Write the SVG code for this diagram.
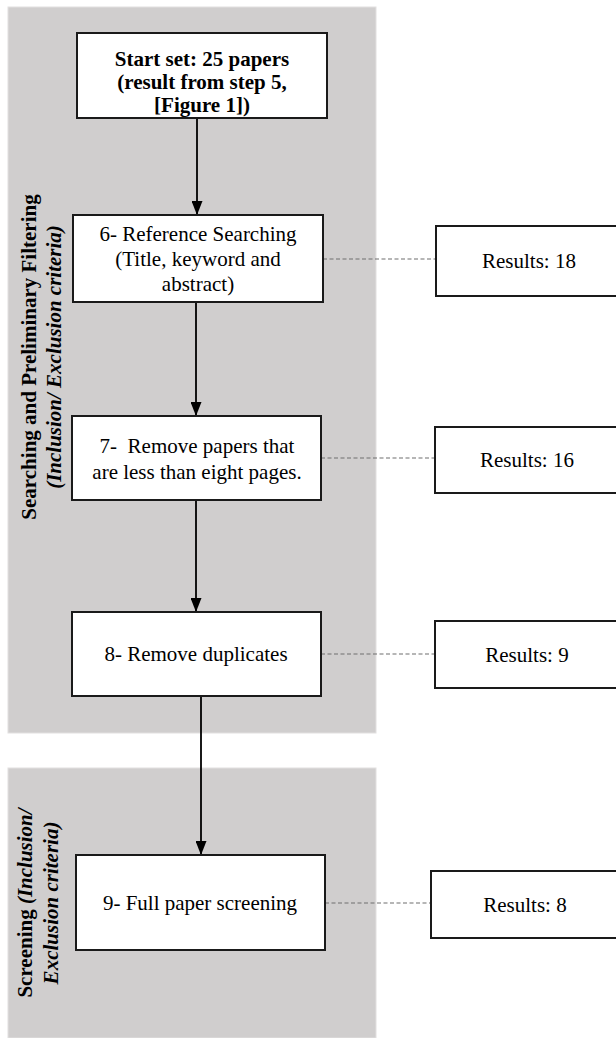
<svg xmlns="http://www.w3.org/2000/svg" width="616" height="1038" viewBox="0 0 616 1038">
<style>
.panel{fill:#d0cece;stroke:#e2e0e0;stroke-width:1}
.box{fill:#fff;stroke:#1a1a1a;stroke-width:2}
.t{font-family:"Liberation Serif","Times New Roman",serif;font-size:21px;fill:#000;text-anchor:middle}
.b{font-weight:bold}
.bi{font-weight:bold;font-style:italic}
.arrow{stroke:#000;stroke-width:1.8;fill:none;marker-end:url(#ah)}
.dash{stroke:#6e6e6e;stroke-width:1.2;stroke-dasharray:4 2.5;fill:none}
</style>
<defs>
<marker id="ah" viewBox="0 0 14 11" refX="14" refY="5.5" markerWidth="14" markerHeight="11" markerUnits="userSpaceOnUse" orient="auto">
<path d="M0,0 L14,5.5 L0,11 Z" fill="#000"/>
</marker>
</defs>
<g id="panels">
<rect class="panel" x="8" y="7" width="368" height="726"/>
<rect class="panel" x="8" y="768" width="368" height="270"/>
</g>
<g id="label-searching">
<text class="t b" transform="translate(36,357) rotate(-90)">Searching and Preliminary Filtering</text>
<text class="t bi" transform="translate(61,357) rotate(-90)">(Inclusion/ Exclusion criteria)</text>
</g>
<g id="label-screening">
<text class="t" transform="translate(32,903) rotate(-90)"><tspan class="b">Screening </tspan><tspan class="bi">(Inclusion/</tspan></text>
<text class="t bi" transform="translate(58,903) rotate(-90)">Exclusion criteria)</text>
</g>
<g id="connectors">
<line class="arrow" x1="197" y1="118" x2="197" y2="215"/>
<line class="arrow" x1="196" y1="302" x2="196" y2="416"/>
<line class="arrow" x1="196" y1="500" x2="196" y2="612"/>
<line class="arrow" x1="201" y1="696" x2="201" y2="855"/>
<line class="dash" x1="323" y1="259" x2="436" y2="259"/>
<line class="dash" x1="321" y1="458" x2="435" y2="458"/>
<line class="dash" x1="321" y1="654" x2="435" y2="654"/>
<line class="dash" x1="325" y1="903" x2="431" y2="903"/>
</g>
<g id="start">
<rect class="box" x="77" y="33" width="250" height="85"/>
<text class="t b" x="202" y="66">Start set: 25 papers</text>
<text class="t b" x="202" y="89">(result from step 5,</text>
<text class="t b" x="202" y="112">[Figure 1])</text>
</g>
<g id="step6">
<rect class="box" x="73" y="215" width="250" height="87"/>
<text class="t" x="198" y="241">6- Reference Searching</text>
<text class="t" x="198" y="266">(Title, keyword and</text>
<text class="t" x="198" y="291">abstract)</text>
</g>
<g id="step7">
<rect class="box" x="72" y="416" width="249" height="84"/>
<text class="t" x="197" y="453" xml:space="preserve">7-  Remove papers that</text>
<text class="t" x="197" y="479">are less than eight pages.</text>
</g>
<g id="step8">
<rect class="box" x="72" y="612" width="249" height="84"/>
<text class="t" x="196" y="661">8- Remove duplicates</text>
</g>
<g id="step9">
<rect class="box" x="76" y="855" width="249" height="95"/>
<text class="t" x="200" y="910">9- Full paper screening</text>
</g>
<g id="res18">
<rect class="box" x="436" y="226" width="182" height="70"/>
<text class="t" x="529" y="268">Results: 18</text>
</g>
<g id="res16">
<rect class="box" x="435" y="427" width="183" height="66"/>
<text class="t" x="527" y="467">Results: 16</text>
</g>
<g id="res9">
<rect class="box" x="435" y="621" width="183" height="67"/>
<text class="t" x="527" y="662">Results: 9</text>
</g>
<g id="res8">
<rect class="box" x="431" y="871" width="187" height="67"/>
<text class="t" x="525" y="912">Results: 8</text>
</g>
</svg>
